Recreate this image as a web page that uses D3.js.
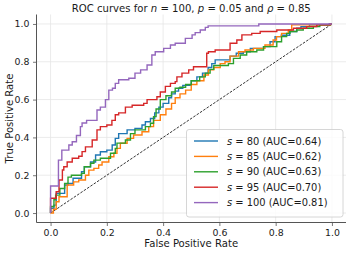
<!DOCTYPE html>
<html>
<head>
<meta charset="utf-8">
<script src="https://cdn.jsdelivr.net/npm/d3@7"></script>
<style>
  body { margin: 0; background: #fff; }
  svg text { font-family: "DejaVu Sans", sans-serif; fill: #1a1a1a; }
</style>
</head>
<body>
<div class="chart"></div>
<script>
// ROC points (fpr, tpr) at the top of each step
const roc80 = [[0,0],[0,0.025],[0.012,0.042],[0.02,0.104],[0.05,0.148],[0.062,0.157],[0.08,0.184],[0.11,0.218],[0.12,0.245],[0.142,0.27],[0.16,0.307],[0.177,0.324],[0.2,0.333],[0.219,0.36],[0.23,0.395],[0.242,0.42],[0.272,0.44],[0.30,0.448],[0.325,0.466],[0.337,0.483],[0.355,0.50],[0.37,0.53],[0.385,0.56],[0.40,0.58],[0.42,0.61],[0.43,0.63],[0.443,0.645],[0.455,0.66],[0.47,0.675],[0.50,0.70],[0.52,0.72],[0.54,0.74],[0.56,0.77],[0.573,0.79],[0.585,0.81],[0.638,0.83],[0.66,0.845],[0.685,0.853],[0.71,0.871],[0.757,0.88],[0.78,0.906],[0.798,0.933],[0.82,0.94],[0.85,0.96],[0.875,0.977],[0.89,0.986],[0.92,0.995],[0.99,1],[1,1]];
const roc85 = [[0,0],[0.01,0.02],[0.02,0.06],[0.03,0.086],[0.059,0.148],[0.082,0.165],[0.1,0.175],[0.124,0.20],[0.136,0.227],[0.154,0.236],[0.171,0.254],[0.183,0.27],[0.207,0.298],[0.225,0.316],[0.236,0.342],[0.248,0.369],[0.272,0.395],[0.295,0.413],[0.325,0.43],[0.349,0.457],[0.366,0.49],[0.39,0.52],[0.41,0.55],[0.43,0.58],[0.443,0.61],[0.46,0.63],[0.48,0.65],[0.50,0.68],[0.52,0.70],[0.545,0.73],[0.561,0.757],[0.58,0.77],[0.603,0.79],[0.62,0.80],[0.638,0.83],[0.668,0.853],[0.691,0.862],[0.721,0.871],[0.762,0.889],[0.791,0.915],[0.803,0.933],[0.821,0.95],[0.845,0.968],[0.857,0.995],[0.995,1],[1,1]];
const roc90 = [[0,0],[0,0.035],[0.012,0.07],[0.018,0.095],[0.033,0.13],[0.05,0.157],[0.062,0.19],[0.074,0.2],[0.11,0.21],[0.12,0.245],[0.142,0.263],[0.154,0.28],[0.177,0.29],[0.213,0.316],[0.23,0.342],[0.236,0.37],[0.266,0.386],[0.284,0.42],[0.30,0.44],[0.337,0.457],[0.355,0.475],[0.366,0.51],[0.375,0.55],[0.39,0.60],[0.41,0.62],[0.43,0.64],[0.443,0.66],[0.46,0.665],[0.48,0.68],[0.50,0.70],[0.53,0.72],[0.55,0.74],[0.567,0.76],[0.58,0.78],[0.632,0.79],[0.65,0.818],[0.674,0.836],[0.697,0.853],[0.733,0.862],[0.757,0.88],[0.804,0.906],[0.821,0.933],[0.839,0.95],[0.851,0.96],[0.875,0.968],[0.898,0.977],[0.934,0.986],[0.957,0.995],[0.995,1],[1,1]];
const roc95 = [[0,0],[0,0.078],[0.02,0.113],[0.03,0.175],[0.042,0.228],[0.047,0.245],[0.059,0.27],[0.077,0.29],[0.1,0.30],[0.112,0.325],[0.124,0.35],[0.148,0.386],[0.165,0.44],[0.177,0.457],[0.2,0.466],[0.218,0.49],[0.23,0.52],[0.242,0.53],[0.266,0.56],[0.29,0.57],[0.331,0.58],[0.343,0.60],[0.378,0.615],[0.39,0.64],[0.408,0.67],[0.426,0.686],[0.443,0.695],[0.449,0.72],[0.467,0.74],[0.491,0.757],[0.508,0.774],[0.555,0.845],[0.561,0.853],[0.585,0.862],[0.638,0.898],[0.662,0.915],[0.68,0.942],[0.715,0.95],[0.745,0.96],[0.804,0.968],[0.863,0.977],[0.91,0.986],[0.946,0.995],[0.993,1],[1,1]];
const roc100 = [[0,0],[0,0.143],[0.028,0.28],[0.04,0.333],[0.065,0.36],[0.077,0.377],[0.092,0.41],[0.106,0.457],[0.112,0.476],[0.128,0.49],[0.165,0.545],[0.177,0.56],[0.195,0.60],[0.207,0.65],[0.22,0.66],[0.23,0.686],[0.242,0.705],[0.278,0.713],[0.30,0.74],[0.32,0.757],[0.343,0.783],[0.36,0.836],[0.372,0.853],[0.402,0.871],[0.426,0.889],[0.443,0.898],[0.479,0.924],[0.503,0.942],[0.514,0.954],[0.532,0.968],[0.55,0.982],[0.56,0.99],[0.74,1],[1,1]];

const sValues = [80, 85, 90, 95, 100];
const aucValues = ["0.64", "0.62", "0.63", "0.70", "0.81"];
const colors = ["#1f77b4", "#ff7f0e", "#2ca02c", "#d62728", "#9467bd"];
const curves = [roc80, roc85, roc90, roc95, roc100];
const ticks = [0, 0.2, 0.4, 0.6, 0.8, 1.0];

let width = 349, height = 253;
let pLeft = 36.5, pRight = 346, pTop = 14.5, pBottom = 222.5;

let svg = d3.select(".chart").append("svg")
  .attr("width", width)
  .attr("height", height);

let x = d3.scaleLinear().domain([-0.05, 1.05]).range([pLeft, pRight]);
let y = d3.scaleLinear().domain([-0.05, 1.05]).range([pBottom, pTop]);

// grid
svg.append("g").selectAll("line")
  .data(ticks).join("line")
  .attr("x1", d => x(d)).attr("x2", d => x(d))
  .attr("y1", pTop).attr("y2", pBottom)
  .attr("stroke", "#e6e6e6").attr("stroke-width", 0.8);
svg.append("g").selectAll("line")
  .data(ticks).join("line")
  .attr("x1", pLeft).attr("x2", pRight)
  .attr("y1", d => y(d)).attr("y2", d => y(d))
  .attr("stroke", "#e6e6e6").attr("stroke-width", 0.8);

// axes
let xAxis = svg.append("g")
  .attr("transform", "translate(0," + pBottom + ")")
  .call(d3.axisBottom(x).tickValues(ticks).tickFormat(d3.format(".1f")).tickSizeOuter(0).tickSize(3.5).tickPadding(3));
let yAxis = svg.append("g")
  .attr("transform", "translate(" + pLeft + ",0)")
  .call(d3.axisLeft(y).tickValues(ticks).tickFormat(d3.format(".1f")).tickSizeOuter(0).tickSize(3.5).tickPadding(3.5));
[xAxis, yAxis].forEach(a => {
  a.select(".domain").attr("stroke", "#555").attr("stroke-width", 1);
  a.selectAll(".tick line").attr("stroke", "#555").attr("stroke-width", 0.8);
  a.selectAll(".tick text").attr("font-size", 9.4).attr("font-family", "DejaVu Sans").attr("fill", "#1a1a1a");
});
xAxis.select(".domain").attr("d", "M" + pLeft + ",0H" + pRight);
yAxis.select(".domain").attr("d", "M0," + pTop + "V" + pBottom);

// chance diagonal
svg.append("line")
  .attr("x1", x(0)).attr("y1", y(0))
  .attr("x2", x(1)).attr("y2", y(1))
  .attr("stroke", "#000").attr("stroke-width", 0.8)
  .attr("stroke-dasharray", "2.6,1.4");

let line = d3.line()
  .x(d => x(d[0]))
  .y(d => y(d[1]))
  .curve(d3.curveStepAfter);

svg.append("g").selectAll("path")
  .data(curves).join("path")
  .attr("d", line)
  .attr("fill", "none")
  .attr("stroke", (d, i) => colors[i])
  .attr("stroke-width", 1.4);

// title
let title = svg.append("text")
  .attr("x", (pLeft + pRight) / 2).attr("y", 11.5)
  .attr("text-anchor", "middle").attr("font-size", 10.1);
title.append("tspan").text("ROC curves for ");
title.append("tspan").attr("font-style", "italic").text("n");
title.append("tspan").text(" = 100, ");
title.append("tspan").attr("font-style", "italic").text("p");
title.append("tspan").text(" = 0.05 and ");
title.append("tspan").attr("font-style", "italic").text("ρ");
title.append("tspan").text(" = 0.85");

// axis labels
svg.append("text")
  .attr("x", (pLeft + pRight) / 2).attr("y", 246.7)
  .attr("text-anchor", "middle").attr("font-size", 10.1)
  .text("False Positive Rate");
svg.append("text")
  .attr("transform", "translate(12.5," + (pTop + pBottom) / 2 + ") rotate(-90)")
  .attr("text-anchor", "middle").attr("font-size", 10.1)
  .text("True Positive Rate");

// legend
let legend = svg.append("g");
legend.append("rect")
  .attr("x", 186.5).attr("y", 129.5)
  .attr("width", 156.5).attr("height", 87.5)
  .attr("rx", 2.5)
  .attr("fill", "#fff").attr("fill-opacity", 0.8)
  .attr("stroke", "#cccccc").attr("stroke-width", 0.8);

let rows = legend.selectAll("g.row")
  .data(sValues).join("g")
  .attr("class", "row")
  .attr("transform", (d, i) => "translate(0," + (141 + i * 15.4) + ")");
rows.append("line")
  .attr("x1", 194).attr("x2", 218)
  .attr("stroke", (d, i) => colors[i]).attr("stroke-width", 1.4);
let lt = rows.append("text")
  .attr("x", 227).attr("y", 3.5).attr("font-size", 9.9);
lt.append("tspan").attr("font-style", "italic").text("s");
lt.append("tspan").text((d, i) => " = " + d + " (AUC=" + aucValues[i] + ")");
</script>
</body>
</html>
